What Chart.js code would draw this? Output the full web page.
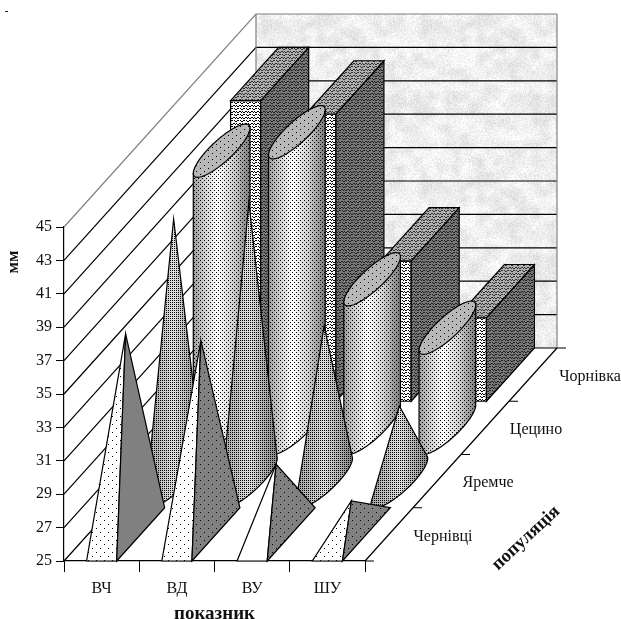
<!DOCTYPE html>
<html>
<head>
<meta charset="utf-8">
<script src="https://cdn.jsdelivr.net/npm/chart.js@4"></script>
<style>
  html, body { margin: 0; padding: 0; background: #fff; }
  canvas { display: block; }
</style>
</head>
<body>
<canvas id="chart" width="621" height="619"></canvas>
<script>
const categories = ['ВЧ', 'ВД', 'ВУ', 'ШУ'];
const populations = ['Чернівці', 'Яремче', 'Цецино', 'Чорнівка'];
const chernivtsi = [37, 36.6, 29.2, 27];
const yaremche = [40.7, 41.7, 34.3, 29.5];
const tsetsyno = [41.6, 42.7, 33.9, 31];
const chornivka = [43, 42.2, 33.4, 30];
const yMin = 25;
const yMax = 45;
const yStep = 2;

const FONT = '"Liberation Serif", "Times New Roman", serif';
const DEPTH_X = 192;
const DEPTH_Y = 213;
const BAR_RATIO = 0.4;
const LINE = '#000';
const labelNudge = [54, 51, 51, 57];

// small pixel tiles for the old office-style fills
function tile(w, h, bg, fg, cells) {
  const c = document.createElement('canvas');
  c.width = w;
  c.height = h;
  const g = c.getContext('2d');
  if (bg) {
    g.fillStyle = bg;
    g.fillRect(0, 0, w, h);
  }
  g.fillStyle = fg;
  cells.forEach(p => g.fillRect(p[0], p[1], 1, 1));
  return c;
}

function hash(x, y) {
  const h = Math.sin(x * 12.9898 + y * 78.233) * 43758.5453;
  return h - Math.floor(h);
}

// mottled paper look of the back wall, wraps at the tile edge
function noiseTile() {
  const size = 160;
  const cell = 8;
  const cells = size / cell;
  const c = document.createElement('canvas');
  c.width = size;
  c.height = size;
  const g = c.getContext('2d');
  const img = g.createImageData(size, size);
  for (let y = 0; y < size; y++) {
    for (let x = 0; x < size; x++) {
      const ix = Math.floor(x / cell);
      const iy = Math.floor(y / cell);
      const fx = x / cell - ix;
      const fy = y / cell - iy;
      const top = hash(ix, iy) * (1 - fx) + hash((ix + 1) % cells, iy) * fx;
      const bottom = hash(ix, (iy + 1) % cells) * (1 - fx) + hash((ix + 1) % cells, (iy + 1) % cells) * fx;
      const blob = top * (1 - fy) + bottom * fy;
      const v = Math.min(255, 212 + blob * 26 + hash(x, y) * 26);
      const i = (y * size + x) * 4;
      img.data[i] = v;
      img.data[i + 1] = v;
      img.data[i + 2] = v;
      img.data[i + 3] = 255;
    }
  }
  g.putImageData(img, 0, 0);
  return c;
}

const waveCells = [[0, 0], [1, 1], [2, 1], [3, 0], [4, 0], [2, 3], [3, 4], [4, 4], [0, 3], [5, 3], [1, 4]];
const tiles = {
  wall: noiseTile(),
  dotsWide: tile(8, 8, null, '#000', [[0, 0], [4, 4]]),
  dotsMid: tile(4, 4, null, '#000', [[0, 0], [2, 2]]),
  dotsFine: tile(2, 2, null, '#000', [[0, 0]]),
  dotsTop: tile(8, 6, null, '#000', [[0, 0], [4, 3]]),
  boxFront: tile(6, 6, '#fff', '#000', waveCells),
  boxTop: tile(6, 6, '#b0b0b0', '#333', waveCells),
  boxSide: tile(6, 6, '#787878', '#222', waveCells)
};

function pattern(ctx, name) {
  return ctx.createPattern(tiles[name], 'repeat');
}

function fillPath(ctx, pts, fills, stroke) {
  ctx.beginPath();
  pts.forEach((p, i) => i ? ctx.lineTo(p[0], p[1]) : ctx.moveTo(p[0], p[1]));
  ctx.closePath();
  fills.forEach(f => {
    ctx.fillStyle = f;
    ctx.fill();
  });
  if (stroke) {
    ctx.strokeStyle = LINE;
    ctx.lineWidth = 1.2;
    ctx.stroke();
  }
}

function ellipsePoint(c, hw, dx, dy, t) {
  return [c[0] + Math.cos(t) * hw + Math.sin(t) * dx, c[1] - Math.sin(t) * dy];
}

function ellipsePoints(c, hw, dx, dy) {
  const pts = [];
  for (let i = 0; i < 96; i++) pts.push(ellipsePoint(c, hw, dx, dy, i / 96 * Math.PI * 2));
  return pts;
}

// front part of the base outline, walking from one silhouette point to the other
function frontArc(c, hw, dx, dy, t1, t2) {
  const step = Math.PI / 90;
  const walk = dir => {
    const pts = [];
    let t = t1;
    let span = 0;
    const total = ((t2 - t1) * dir % (Math.PI * 2) + Math.PI * 2) % (Math.PI * 2);
    while (span < total) {
      pts.push(ellipsePoint(c, hw, dx, dy, t));
      t += dir * step;
      span += step;
    }
    pts.push(ellipsePoint(c, hw, dx, dy, t2));
    return pts;
  };
  const a = walk(1);
  const b = walk(-1);
  const low = pts => Math.max(...pts.map(p => p[1]));
  return low(a) >= low(b) ? a : b;
}

function shade(ctx, x1, x2, stops) {
  const g = ctx.createLinearGradient(x1, 0, x2, 0);
  stops.forEach(s => g.addColorStop(s[0], s[1]));
  return g;
}

// each series sits in its own slice of the depth axis
function placer(chart, depth) {
  const xs = chart.scales.x;
  const ys = chart.scales.y;
  const band = xs.getPixelForValue(1) - xs.getPixelForValue(0);
  const hw = band * BAR_RATIO / 2;
  const n = populations.length;
  return {
    hw,
    dx: DEPTH_X / n / 2,
    dy: DEPTH_Y / n / 2,
    at(i, value) {
      return [xs.getPixelForValue(i) + (depth + 0.5) * DEPTH_X / n,
        ys.getPixelForValue(value) - (depth + 0.5) * DEPTH_Y / n];
    }
  };
}

const pyramidLeftDots = [true, true, false, true];
const pyramidRightDots = [false, true, true, true];

function drawPyramid(ctx, p, i, value) {
  const c = p.at(i, yMin);
  const top = p.at(i, value);
  const fl = [c[0] - p.hw - p.dx, c[1] + p.dy];
  const fr = [c[0] + p.hw - p.dx, c[1] + p.dy];
  const br = [c[0] + p.hw + p.dx, c[1] - p.dy];
  const left = pyramidLeftDots[i] ? ['#fff', pattern(ctx, 'dotsWide')] : ['#fff'];
  const right = pyramidRightDots[i] ? ['#808080', pattern(ctx, 'dotsWide')] : ['#808080'];
  fillPath(ctx, [fl, fr, top], left, true);
  fillPath(ctx, [fr, br, top], right, true);
}

function drawCone(ctx, p, i, value) {
  const c = p.at(i, yMin);
  const top = p.at(i, value);
  let tMin = 0, tMax = 0, aMin = Infinity, aMax = -Infinity;
  for (let k = 0; k < 720; k++) {
    const t = k / 720 * Math.PI * 2;
    const q = ellipsePoint(c, p.hw, p.dx, p.dy, t);
    const a = Math.atan2(q[0] - top[0], q[1] - top[1]);
    if (a < aMin) { aMin = a; tMin = t; }
    if (a > aMax) { aMax = a; tMax = t; }
  }
  const arc = frontArc(c, p.hw, p.dx, p.dy, tMin, tMax);
  const xs = arc.map(q => q[0]);
  const x1 = Math.min(...xs);
  const x2 = Math.max(...xs);
  const grad = shade(ctx, x1, x2, [[0, '#a0a0a0'], [0.25, '#bcbcbc'], [0.5, '#e0e0e0'], [0.75, '#b4b4b4'], [1, '#848484']]);
  fillPath(ctx, [top, ...arc], [grad, pattern(ctx, 'dotsFine')], true);
}

function drawCylinder(ctx, p, i, value) {
  const c = p.at(i, yMin);
  const top = p.at(i, value);
  const t0 = Math.atan2(p.dx, p.hw);
  const arc = frontArc(c, p.hw, p.dx, p.dy, t0 + Math.PI, t0);
  const left = ellipsePoint(top, p.hw, p.dx, p.dy, t0 + Math.PI);
  const right = ellipsePoint(top, p.hw, p.dx, p.dy, t0);
  const grad = shade(ctx, left[0], right[0], [[0, '#9c9c9c'], [0.2, '#cfcfcf'], [0.42, '#ffffff'], [0.7, '#d0d0d0'], [1, '#7a7a7a']]);
  fillPath(ctx, [left, ...arc, right], [grad, pattern(ctx, 'dotsMid')], true);
  fillPath(ctx, ellipsePoints(top, p.hw, p.dx, p.dy), ['#b8b8b8', pattern(ctx, 'dotsTop')], true);
}

function drawBox(ctx, p, i, value) {
  const c = p.at(i, yMin);
  const top = p.at(i, value);
  const f0 = [c[0] - p.hw - p.dx, c[1] + p.dy];
  const f1 = [c[0] + p.hw - p.dx, c[1] + p.dy];
  const b1 = [c[0] + p.hw + p.dx, c[1] - p.dy];
  const t0 = [top[0] - p.hw - p.dx, top[1] + p.dy];
  const t1 = [top[0] + p.hw - p.dx, top[1] + p.dy];
  const t2 = [top[0] + p.hw + p.dx, top[1] - p.dy];
  const t3 = [top[0] - p.hw + p.dx, top[1] - p.dy];
  fillPath(ctx, [f0, f1, t1, t0], [pattern(ctx, 'boxFront')], true);
  fillPath(ctx, [f1, b1, t2, t1], [pattern(ctx, 'boxSide')], true);
  fillPath(ctx, [t0, t1, t2, t3], [pattern(ctx, 'boxTop')], true);
}

const shapes = [drawPyramid, drawCone, drawCylinder, drawBox];

const walls3d = {
  id: 'walls3d',
  beforeDatasetsDraw(chart) {
    const ctx = chart.ctx;
    const a = chart.chartArea;
    const ys = chart.scales.y;
    const width = a.right - a.left;
    const backLeft = a.left + DEPTH_X;
    const backTop = a.top - DEPTH_Y;
    ctx.save();
    ctx.fillStyle = pattern(ctx, 'wall');
    ctx.fillRect(backLeft, backTop, width, a.bottom - a.top);
    ys.ticks.forEach((tick, i) => {
      const y = ys.getPixelForTick(i);
      ctx.strokeStyle = tick.value === yMax ? '#808080' : '#000';
      ctx.lineWidth = 1.2;
      ctx.beginPath();
      ctx.moveTo(a.left, y);
      ctx.lineTo(backLeft, y - DEPTH_Y);
      ctx.lineTo(backLeft + width, y - DEPTH_Y);
      ctx.stroke();
    });
    ctx.strokeStyle = '#808080';
    ctx.beginPath();
    ctx.moveTo(backLeft, backTop);
    ctx.lineTo(backLeft, a.bottom - DEPTH_Y);
    ctx.moveTo(backLeft + width, backTop);
    ctx.lineTo(backLeft + width, a.bottom - DEPTH_Y);
    ctx.stroke();
    ctx.restore();
  },
  afterDatasetsDraw(chart) {
    const ctx = chart.ctx;
    const a = chart.chartArea;
    ctx.save();
    for (let d = chart.data.datasets.length - 1; d >= 0; d--) {
      const p = placer(chart, d);
      chart.data.datasets[d].data.forEach((v, i) => shapes[d](ctx, p, i, v));
    }
    // right floor edge, its ticks and the series names
    const n = populations.length;
    ctx.strokeStyle = LINE;
    ctx.lineWidth = 1.2;
    ctx.beginPath();
    ctx.moveTo(a.right, a.bottom);
    ctx.lineTo(a.right + DEPTH_X, a.bottom - DEPTH_Y);
    for (let d = 0; d <= n; d++) {
      const x = a.right + d * DEPTH_X / n;
      const y = a.bottom - d * DEPTH_Y / n;
      ctx.moveTo(x, y);
      ctx.lineTo(x + 9, y);
    }
    ctx.stroke();
    ctx.fillStyle = '#111';
    ctx.font = '16px ' + FONT;
    ctx.textAlign = 'center';
    ctx.textBaseline = 'middle';
    populations.forEach((name, d) => {
      ctx.fillText(name, a.right + (d + 0.5) * DEPTH_X / n + labelNudge[d], a.bottom - (d + 0.5) * DEPTH_Y / n + 2);
    });
    // depth axis title
    ctx.font = 'bold 18.5px ' + FONT;
    ctx.save();
    ctx.translate(a.right + 161, a.bottom - 23);
    ctx.rotate(-43 * Math.PI / 180);
    ctx.fillText('популяція', 0, 0);
    ctx.restore();
    // value axis title sits above the middle of the axis
    ctx.save();
    ctx.translate(14, 262);
    ctx.rotate(-Math.PI / 2);
    ctx.font = 'bold 17px ' + FONT;
    ctx.fillText('мм', 0, 0);
    ctx.restore();
    // speck in the corner of the original
    ctx.fillStyle = '#222';
    ctx.fillRect(5, 11, 3, 1);
    ctx.restore();
  }
};

new Chart(document.getElementById('chart'), {
  type: 'bar',
  data: {
    labels: categories,
    datasets: [
      { label: populations[0], data: chernivtsi },
      { label: populations[1], data: yaremche },
      { label: populations[2], data: tsetsyno },
      { label: populations[3], data: chornivka }
    ]
  },
  plugins: [walls3d],
  options: {
    responsive: false,
    animation: false,
    devicePixelRatio: 1,
    layout: { padding: { left: 0, top: 227, right: 256, bottom: 0 } },
    elements: { bar: { backgroundColor: 'rgba(0,0,0,0)', borderWidth: 0 } },
    plugins: { legend: { display: false }, tooltip: { enabled: false } },
    scales: {
      x: {
        grid: { drawOnChartArea: false, tickLength: 11, color: LINE },
        border: { color: LINE, width: 1.2 },
        ticks: { color: '#111', padding: 7, font: { family: FONT, size: 16 } },
        title: { display: true, text: 'показник', color: '#111', padding: { top: 0, bottom: -5 }, font: { family: FONT, size: 19, weight: 'bold', lineHeight: 1 } },
        afterFit(scale) { scale.height = 58; }
      },
      y: {
        min: yMin,
        max: yMax,
        grid: { drawOnChartArea: false, tickLength: 8, color: LINE },
        border: { color: LINE, width: 1.2 },
        ticks: { stepSize: yStep, color: '#111', padding: 4, font: { family: FONT, size: 16 } },
        afterFit(scale) { scale.width = 64; }
      }
    }
  }
});
</script>
</body>
</html>
